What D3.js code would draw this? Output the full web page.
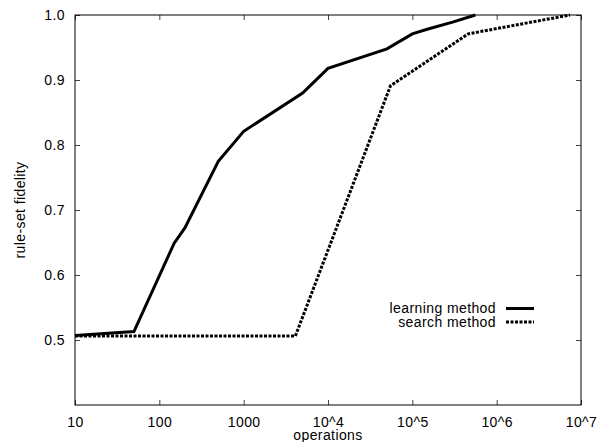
<!DOCTYPE html>
<html>
<head>
<meta charset="utf-8">
<script src="https://cdn.jsdelivr.net/npm/d3@7"></script>
<style>
  body { margin: 0; background: #fff; }
  text { font-family: "Liberation Sans", Arial, sans-serif; fill: #000; letter-spacing: 0.4px; }
</style>
</head>
<body>
<div id="chart"></div>
<script>
// data
const learnOps = [10, 50, 150, 200, 500, 1000, 5000, 1e4, 5e4, 1e5, 1.5e5, 3e5, 5.6e5]
const learnFid = [0.507, 0.513, 0.649, 0.672, 0.775, 0.821, 0.880, 0.918, 0.948, 0.971, 0.978, 0.989, 1.0]
const searchOps = [10, 4100, 5.5e4, 4.6e5, 7.4e6]
const searchFid = [0.506, 0.506, 0.891, 0.971, 1.0]
const xTicks = [10, 100, 1000, 1e4, 1e5, 1e6, 1e7]
const xTickLabels = ["10", "100", "1000", "10^4", "10^5", "10^6", "10^7"]
const yTicks = [0.5, 0.6, 0.7, 0.8, 0.9, 1.0]

const W = 598, H = 442
const margin = ({top: 15, right: 17, bottom: 37, left: 75})
const width = W - margin.left - margin.right,
    height = H - margin.top - margin.bottom

const svg = d3.select("#chart").append("svg")
    .attr("width", W)
    .attr("height", H)
const g = svg.append("g")
    .attr("transform", "translate(" + margin.left + "," + margin.top + ")")

const xScale = d3.scaleLog().domain([10, 1e7]).range([0, width])
const yScale = d3.scaleLinear().domain([0.4, 1.0]).range([height, 0])

// axes, ticks pointing inward on all four sides
const fmtX = d => xTickLabels[xTicks.indexOf(d)]
g.append("g").attr("class", "x-axis")
    .attr("transform", "translate(0," + height + ")")
    .call(d3.axisBottom(xScale).tickValues(xTicks).tickFormat(fmtX).tickSizeInner(-5).tickSizeOuter(0).tickPadding(12))
g.append("g").attr("class", "x-axis-top")
    .call(d3.axisTop(xScale).tickValues(xTicks).tickFormat("").tickSizeInner(-5).tickSizeOuter(0))
g.append("g").attr("class", "y-axis")
    .call(d3.axisLeft(yScale).tickValues(yTicks).tickFormat(d3.format(".1f")).tickSizeInner(-5).tickSizeOuter(0).tickPadding(10))
g.append("g").attr("class", "y-axis-right")
    .attr("transform", "translate(" + width + ",0)")
    .call(d3.axisRight(yScale).tickValues(yTicks).tickFormat("").tickSizeInner(-5).tickSizeOuter(0))

g.selectAll(".domain").remove()
g.selectAll(".tick line").attr("stroke", "#444")
g.selectAll(".tick text").attr("font-size", 14)

g.append("rect")
    .attr("width", width).attr("height", height)
    .attr("fill", "none").attr("stroke", "#000").attr("stroke-width", 1)

// lines
const line = d3.line()
    .x(d => xScale(d[0]))
    .y(d => yScale(d[1]))

g.append("path")
    .datum(d3.zip(learnOps, learnFid))
    .attr("d", line)
    .attr("fill", "none").attr("stroke", "#000").attr("stroke-width", 3)
    .attr("stroke-linejoin", "miter")

g.append("path")
    .datum(d3.zip(searchOps, searchFid))
    .attr("d", line)
    .attr("fill", "none").attr("stroke", "#000").attr("stroke-width", 3)
    .attr("stroke-dasharray", "3,1.5")

// legend
const legend = [
  {label: "learning method", dash: null, y: 308.5},
  {label: "search method", dash: "3,1.5", y: 322}
]
legend.forEach(l => {
  svg.append("text")
      .attr("x", 496).attr("y", l.y)
      .attr("dy", "0.35em")
      .attr("text-anchor", "end")
      .attr("font-size", 14)
      .text(l.label)
  svg.append("line")
      .attr("x1", 506).attr("x2", 534)
      .attr("y1", l.y).attr("y2", l.y)
      .attr("stroke", "#000").attr("stroke-width", 3)
      .attr("stroke-dasharray", l.dash)
})

// axis titles
svg.append("text")
    .attr("x", margin.left + width / 2).attr("y", 440)
    .attr("text-anchor", "middle")
    .attr("font-size", 14)
    .text("operations")
svg.append("text")
    .attr("transform", "translate(25," + (margin.top + height / 2) + ") rotate(-90)")
    .attr("text-anchor", "middle")
    .attr("font-size", 14)
    .text("rule-set fidelity")
</script>
</body>
</html>
